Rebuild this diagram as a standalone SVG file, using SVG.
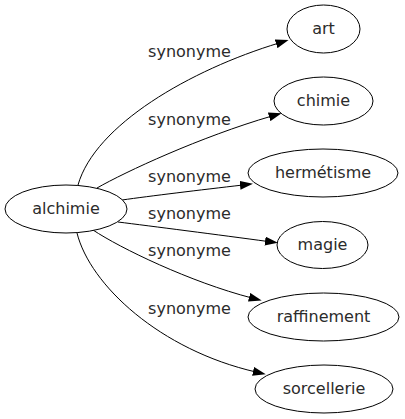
<svg xmlns="http://www.w3.org/2000/svg" width="405" height="419" viewBox="0 0 405 419">
<defs>
<style>
.node ellipse{fill:#fff;stroke:#000;stroke-width:1}
text{font-family:"DejaVu Sans",Verdana,sans-serif;font-size:16px;fill:#2b2b2b;text-anchor:middle}
.edge{fill:none;stroke:#000;stroke-width:1;marker-end:url(#arr)}
</style>
<marker id="arr" viewBox="0 0 13 9" refX="3" refY="4.5" markerWidth="13" markerHeight="9" markerUnits="userSpaceOnUse" orient="auto">
<path d="M0,0 L13,4.5 L0,9 z" fill="#000"/>
</marker>
</defs>
<rect width="405" height="419" fill="#fff"/>
<g id="connectors">
<path class="edge" d="M78,185 C95,125 190,70 279,43"/>
<path class="edge" d="M97,188 C125,172 200,137 272,116"/>
<path class="edge" d="M122,200 C150,196 200,190 243,185"/>
<path class="edge" d="M118,222 C150,226 220,235 268,241.5"/>
<path class="edge" d="M93,230 C120,248 190,282 252,298"/>
<path class="edge" d="M77,233 C90,285 160,350 256,372"/>
<text x="189.5" y="57">synonyme</text>
<text x="189.5" y="125">synonyme</text>
<text x="189.5" y="182">synonyme</text>
<text x="189.5" y="219">synonyme</text>
<text x="189.5" y="256">synonyme</text>
<text x="189.5" y="314">synonyme</text>
</g>
<g id="alchimie" class="node"><ellipse cx="66" cy="209" rx="61" ry="24"/><text x="66" y="214">alchimie</text></g>
<g id="art" class="node"><ellipse cx="323.5" cy="29" rx="36.5" ry="24"/><text x="323.5" y="34">art</text></g>
<g id="chimie" class="node"><ellipse cx="323.5" cy="101" rx="49.5" ry="24"/><text x="323.5" y="106">chimie</text></g>
<g id="hermetisme" class="node"><ellipse cx="323" cy="173" rx="75" ry="24"/><text x="323" y="178">hermétisme</text></g>
<g id="magie" class="node"><ellipse cx="322.5" cy="245" rx="45.5" ry="23.5"/><text x="322.5" y="250">magie</text></g>
<g id="raffinement" class="node"><ellipse cx="323.5" cy="317" rx="75.5" ry="24"/><text x="323.5" y="322">raffinement</text></g>
<g id="sorcellerie" class="node"><ellipse cx="324" cy="389" rx="69" ry="24"/><text x="324" y="394">sorcellerie</text></g>
</svg>
